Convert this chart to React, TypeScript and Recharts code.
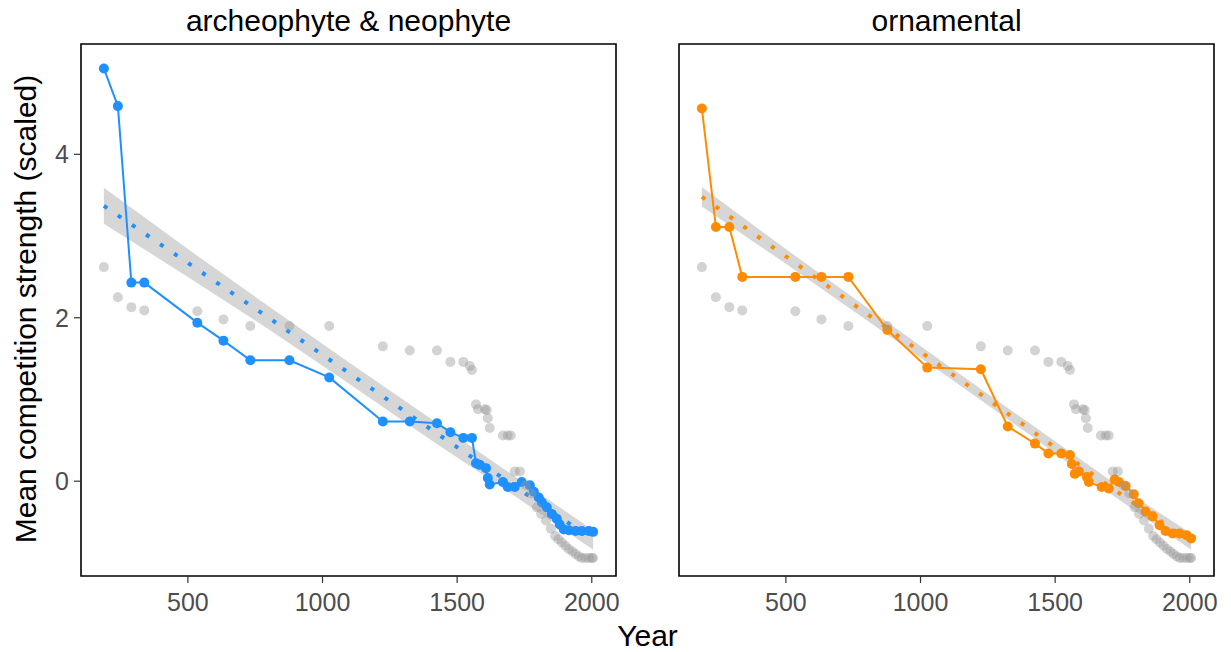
import {
  ComposedChart,
  XAxis,
  YAxis,
  Line,
  Area,
  Scatter,
  ReferenceArea,
} from 'recharts';

// grey background points (all groups, shown in both panels)
const grayYears = [188, 240, 290, 338, 535, 632, 732, 877, 1025, 1224, 1324, 1425, 1475, 1523, 1547, 1555, 1570, 1577, 1603, 1610, 1614, 1621, 1670, 1688, 1699, 1714, 1733, 1755, 1775, 1796, 1812, 1830, 1848, 1864, 1876, 1889, 1902, 1915, 1928, 1940, 1952, 1963, 1976, 1989, 2000, 2005];
const grayValues = [2.62, 2.25, 2.13, 2.09, 2.08, 1.98, 1.9, 1.9, 1.9, 1.65, 1.6, 1.6, 1.46, 1.46, 1.41, 1.36, 0.94, 0.88, 0.88, 0.87, 0.77, 0.65, 0.56, 0.56, 0.56, 0.12, 0.12, -0.05, -0.15, -0.32, -0.4, -0.48, -0.58, -0.67, -0.71, -0.75, -0.79, -0.83, -0.86, -0.89, -0.92, -0.94, -0.94, -0.94, -0.94, -0.94];

// archeophyte & neophyte
const neoYears = [188, 240, 290, 338, 535, 632, 732, 877, 1025, 1224, 1324, 1425, 1475, 1523, 1555, 1570, 1584, 1607, 1614, 1621, 1670, 1688, 1714, 1740, 1770, 1785, 1803, 1815, 1833, 1851, 1870, 1881, 1896, 1915, 1940, 1963, 1989, 2005];
const neoValues = [5.05, 4.59, 2.43, 2.43, 1.94, 1.72, 1.48, 1.48, 1.27, 0.73, 0.73, 0.71, 0.6, 0.53, 0.53, 0.22, 0.2, 0.16, 0.04, -0.04, -0.01, -0.07, -0.07, -0.01, -0.05, -0.13, -0.2, -0.26, -0.32, -0.4, -0.46, -0.53, -0.59, -0.6, -0.61, -0.61, -0.61, -0.62];

// ornamental
const ornYears = [188, 240, 290, 338, 535, 632, 732, 877, 1025, 1224, 1324, 1425, 1475, 1523, 1555, 1562, 1573, 1588, 1618, 1625, 1673, 1699, 1721, 1737, 1762, 1792, 1810, 1836, 1862, 1888, 1910, 1936, 1962, 1988, 2005];
const ornValues = [4.56, 3.11, 3.11, 2.5, 2.5, 2.5, 2.5, 1.85, 1.39, 1.37, 0.67, 0.46, 0.34, 0.34, 0.32, 0.21, 0.09, 0.12, 0.05, -0.01, -0.07, -0.09, 0.02, -0.01, -0.06, -0.16, -0.27, -0.37, -0.43, -0.54, -0.61, -0.64, -0.64, -0.66, -0.7];

// linear fit + confidence band
const fitYears = [188, 500, 800, 1100, 1400, 1700, 2005];
const neoFit = [3.37, 2.67, 2.0, 1.32, 0.64, -0.03, -0.72];
const neoLo = [3.15, 2.5, 1.86, 1.19, 0.51, -0.15, -0.84];
const neoHi = [3.59, 2.84, 2.14, 1.45, 0.77, 0.09, -0.6];
const ornFit = [3.48, 2.75, 2.05, 1.35, 0.65, -0.06, -0.74];
const ornLo = [3.36, 2.66, 1.97, 1.28, 0.58, -0.14, -0.84];
const ornHi = [3.6, 2.84, 2.13, 1.42, 0.72, 0.02, -0.64];

const xTicks = [500, 1000, 1500, 2000];
const yTicks = [0, 2, 4];
const xDomain = [103, 2090];
const yDomain = [-1.16, 5.35];

const FONT = '"Liberation Sans", Arial, sans-serif';

const toPoints = (xs: number[], ys: number[]) => xs.map((year, i) => ({ year, value: ys[i] }));
const toBand = (lo: number[], hi: number[], fit: number[]) =>
  fitYears.map((year, i) => ({ year, band: [lo[i], hi[i]], fit: fit[i] }));

const grayData = toPoints(grayYears, grayValues);

const GrayDot = (props: any) => (
  <circle cx={props.cx} cy={props.cy} r={5} fill="#969696" fillOpacity={0.42} />
);

function Panel({ data, band, color, showY, left, width, margin }) {
  return (
    <div style={{ position: 'absolute', left, top: 0 }}>
      <ComposedChart width={width} height={652} margin={margin}>
        <XAxis
          dataKey="year"
          type="number"
          domain={xDomain}
          ticks={xTicks}
          allowDataOverflow
          axisLine={false}
          tickSize={7}
          tickMargin={10}
          height={40}
          tickLine={{ stroke: '#333', strokeWidth: 1.2 }}
          tick={{ fill: '#4d4d4d', fontSize: 25, fontFamily: FONT }}
        />
        <YAxis
          type="number"
          domain={yDomain}
          ticks={yTicks}
          allowDataOverflow
          hide={!showY}
          width={81}
          axisLine={false}
          tickSize={7}
          tickMargin={5}
          tickLine={{ stroke: '#333', strokeWidth: 1.2 }}
          tick={{ fill: '#4d4d4d', fontSize: 25, fontFamily: FONT }}
        />
        <ReferenceArea
          x1={xDomain[0]}
          x2={xDomain[1]}
          y1={yDomain[0]}
          y2={yDomain[1]}
          fill="none"
          stroke="#000"
          strokeWidth={1.6}
          ifOverflow="visible"
        />
        <Line
          data={data}
          dataKey="value"
          type="linear"
          stroke={color}
          strokeWidth={2}
          dot={{ r: 5, fill: color, stroke: 'none' }}
          isAnimationActive={false}
        />
        <Scatter data={grayData} dataKey="value" shape={GrayDot} isAnimationActive={false} />
        <Area
          data={band}
          dataKey="band"
          type="linear"
          stroke="none"
          fill="#999999"
          fillOpacity={0.4}
          isAnimationActive={false}
        />
        <Line
          data={band}
          dataKey="fit"
          type="linear"
          stroke={color}
          strokeWidth={4}
          strokeDasharray="4 13"
          dot={false}
          isAnimationActive={false}
        />
      </ComposedChart>
    </div>
  );
}

const titleStyle = {
  position: 'absolute' as const,
  fontFamily: FONT,
  fontSize: 30,
  lineHeight: '36px',
  color: '#000',
  textAlign: 'center' as const,
  whiteSpace: 'nowrap' as const,
};

export default function App() {
  return (
    <div style={{ position: 'absolute', left: 0, top: 0, width: 1231, height: 652, background: '#fff' }}>
      <Panel
        data={toPoints(neoYears, neoValues)}
        band={toBand(neoLo, neoHi, neoFit)}
        color="#1E90FF"
        showY
        left={0}
        width={620}
        margin={{ top: 44, right: 4, bottom: 36, left: 0 }}
      />
      <Panel
        data={toPoints(ornYears, ornValues)}
        band={toBand(ornLo, ornHi, ornFit)}
        color="#FF8C00"
        showY={false}
        left={660}
        width={570}
        margin={{ top: 44, right: 16, bottom: 36, left: 19 }}
      />
      <div style={{ ...titleStyle, left: 81, width: 535, top: 3 }}>archeophyte &amp; neophyte</div>
      <div style={{ ...titleStyle, left: 679, width: 535, top: 3 }}>ornamental</div>
      <div style={{ ...titleStyle, left: 81, width: 1133, top: 618 }}>Year</div>
      <div
        style={{
          ...titleStyle,
          left: 26 - 300,
          top: 309 - 18,
          width: 600,
          transform: 'rotate(-90deg)',
        }}
      >
        Mean competition strength (scaled)
      </div>
    </div>
  );
}
